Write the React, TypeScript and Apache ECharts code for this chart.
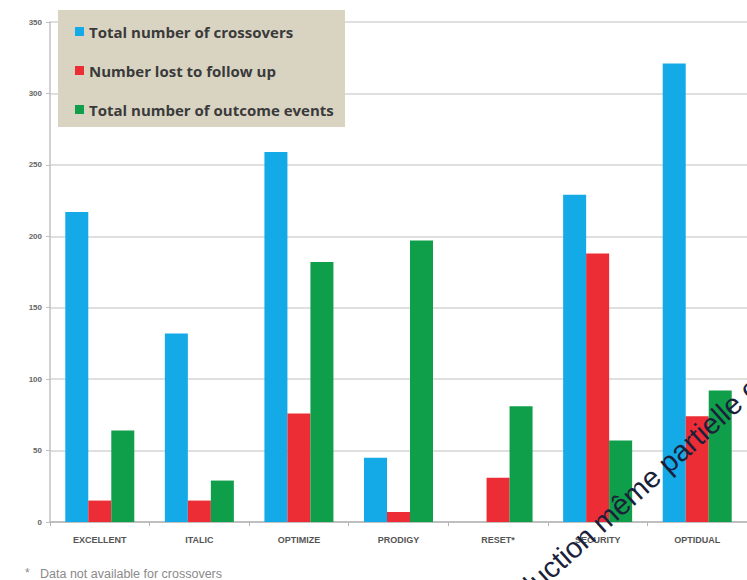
import React, { useEffect, useRef } from "react";
import * as echarts from "echarts";

const categories = ["EXCELLENT", "ITALIC", "OPTIMIZE", "PRODIGY", "RESET*", "SECURITY", "OPTIDUAL"];
const seriesNames = ["Total number of crossovers", "Number lost to follow up", "Total number of outcome events"];
const crossovers = [217, 132, 259, 45, null, 229, 321];
const lostToFollowUp = [15, 15, 76, 7, 31, 188, 74];
const outcomeEvents = [64, 29, 182, 197, 81, 57, 92];
const colors = ["#14aae8", "#ec2d36", "#0f9e4a"];
const footnoteMark = "*";
const footnote = "Data not available for crossovers";
const watermark = "Reproduction même partielle est interdite";

export default function App() {
  const ref = useRef<HTMLDivElement>(null);
  useEffect(() => {
    document.body.style.margin = "0";
    if (!ref.current) return;
    const chart = echarts.init(ref.current, null, { renderer: "svg" });
    const values = [crossovers, lostToFollowUp, outcomeEvents];
    chart.setOption({
      animation: false,
      backgroundColor: "#ffffff",
      textStyle: { fontFamily: "Liberation Sans" },
      grid: { left: 50, width: 705, top: 22, height: 500, containLabel: false },
      legend: {
        show: true,
        orient: "vertical",
        left: 70,
        top: 18,
        itemWidth: 9,
        itemHeight: 9,
        itemGap: 22,
        icon: "rect",
        data: seriesNames,
        textStyle: {
          fontFamily: "Open Sans",
          fontWeight: "bold",
          fontSize: 15,
          lineHeight: 17,
          color: "#3a3a3a",
          padding: [0, 0, 0, 0],
        },
        z: 10,
      },
      xAxis: {
        type: "category",
        data: categories,
        axisLine: { show: true, lineStyle: { color: "#b5b5b5", width: 1.5 } },
        axisTick: { show: true, length: 4, lineStyle: { color: "#b5b5b5" } },
        axisLabel: {
          fontSize: 9,
          fontWeight: "bold",
          color: "#555555",
          margin: 13,
          fontFamily: "Liberation Sans",
        },
      },
      yAxis: {
        type: "value",
        min: 0,
        max: 350,
        interval: 50,
        axisLine: { show: true, lineStyle: { color: "#c0c0c0", width: 1.5 } },
        axisTick: { show: true, length: 4, lineStyle: { color: "#c0c0c0" } },
        axisLabel: { fontSize: 8, fontWeight: "bold", color: "#666666", margin: 8 },
        splitLine: { show: true, lineStyle: { color: "#d4d4d4", width: 1.5 } },
      },
      series: seriesNames.map((name, i) => ({
        name,
        type: "bar",
        data: values[i],
        barWidth: 23,
        barGap: "0%",
        itemStyle: { color: colors[i] },
      })),
      graphic: [
        {
          type: "rect",
          left: 58,
          top: 10,
          shape: { width: 287, height: 117 },
          style: { fill: "#d9d4c2" },
          z: 5,
        },
        {
          type: "text",
          left: 25,
          top: 567,
          style: { text: footnoteMark, fontSize: 12, fill: "#8a8a8a", fontFamily: "Liberation Sans" },
        },
        {
          type: "text",
          left: 40,
          top: 567,
          style: {
            text: footnote,
            fontSize: 12.5,
            fill: "#8a8a8a",
            fontFamily: "Liberation Sans",
          },
        },
        {
          type: "text",
          x: 472,
          y: 658,
          rotation: (42 * Math.PI) / 180,
          style: {
            text: watermark,
            fontSize: 29,
            fill: "#1c1f3a",
            fontFamily: "Liberation Sans",
            textAlign: "left",
            textVerticalAlign: "bottom",
          },
          z: 20,
        },
      ],
    });
    return () => chart.dispose();
  }, []);
  return <div ref={ref} style={{ width: 747, height: 580 }} />;
}
